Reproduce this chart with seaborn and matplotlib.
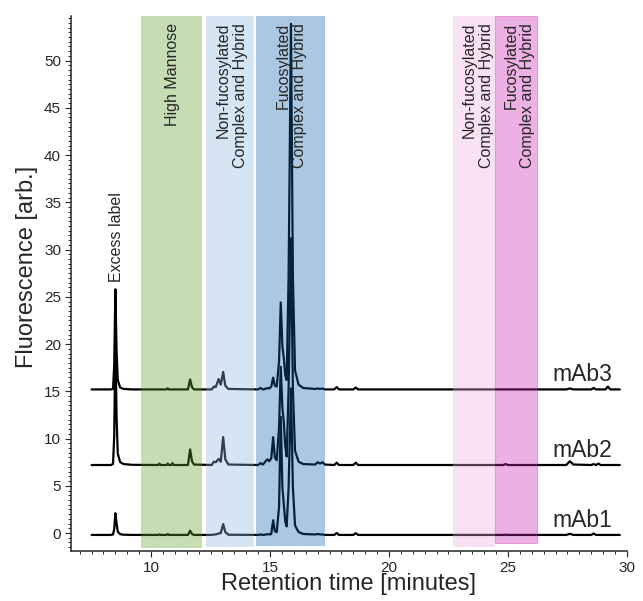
import numpy as np
import pandas as pd
import seaborn as sns
import matplotlib.pyplot as plt
from matplotlib.ticker import MultipleLocator

# retention time grid (minutes)
time = [7.5, 8.3, 8.4, 8.45, 8.5, 8.55, 8.6, 8.7, 8.85, 9.2,
        10.3, 10.35, 10.4, 10.65, 10.7, 10.75, 10.85, 10.9, 10.95,
        11.55, 11.64, 11.72, 11.8,
        12.55, 12.64, 12.72, 12.84, 12.93, 13.03, 13.12, 13.25,
        14.5, 14.6, 14.7, 14.85, 14.9, 14.97, 15.05, 15.13, 15.2, 15.28,
        15.38, 15.45, 15.52, 15.58, 15.64, 15.7, 15.78, 15.88, 15.96,
        16.05, 16.2, 16.4, 16.9, 17.0, 17.1, 17.2, 17.3, 17.7, 17.8, 17.9,
        18.5, 18.6, 18.7, 24.8, 24.9, 25.0, 27.45, 27.6, 27.75,
        28.5, 28.6, 28.7, 28.8, 28.9, 29.1, 29.2, 29.3, 29.7]

mab1 = [0, 0, 0.05, 0.6, 2.3, 1.2, 0.35, 0.08, 0.02, 0,
        0, 0.05, 0, 0, 0.1, 0, 0, 0, 0,
        0, 0.45, 0.1, 0,
        0, 0.05, 0.05, 0.15, 0.2, 1.15, 0.3, 0.02,
        0, 0.05, 0, 0.05, 0.08, 0.05, 0.1, 1.55, 0.4, 0.3,
        3.0, 12.5, 5.0, 3.2, 1.4, 0.9, 5.0, 15.5, 5.0,
        1.0, 0.3, 0.1, 0.05, 0.1, 0.05, 0.05, 0, 0, 0.2, 0,
        0, 0.18, 0, 0, 0.02, 0, 0, 0.12, 0,
        0, 0.15, 0, 0, 0, 0, 0, 0, 0]

mab2 = [0, 0, 0.1, 3.0, 13.5, 5.0, 1.2, 0.3, 0.1, 0.02,
        0, 0.15, 0, 0, 0.15, 0, 0, 0.2, 0,
        0, 1.65, 0.4, 0.05,
        0, 0.35, 0.3, 0.65, 0.35, 2.95, 0.6, 0.05,
        0, 0.2, 0.05, 0.5, 0.6, 0.4, 0.7, 2.95, 0.8, 0.5,
        4.0, 10.4, 6.0, 4.5, 2.0, 0.9, 8.0, 24.0, 8.0,
        1.5, 0.35, 0.1, 0.05, 0.3, 0.15, 0.3, 0.05, 0, 0.25, 0,
        0, 0.25, 0, 0, 0.1, 0, 0, 0.4, 0.05,
        0, 0.1, 0, 0.15, 0, 0, 0, 0, 0]

mab3 = [0, 0, 0.05, 2.5, 10.6, 4.0, 1.0, 0.2, 0.05, 0,
        0, 0, 0, 0, 0.12, 0, 0, 0, 0,
        0, 1.05, 0.25, 0,
        0, 0.3, 0.25, 1.1, 0.5, 1.85, 0.4, 0.05,
        0, 0.15, 0, 0.1, 0.15, 0.1, 0.3, 1.25, 0.4, 0.3,
        3.0, 9.2, 4.5, 3.3, 1.5, 1.0, 12.0, 38.7, 12.0,
        2.0, 0.5, 0.15, 0.05, 0.1, 0.05, 0.1, 0, 0, 0.25, 0,
        0, 0.2, 0, 0, 0, 0, 0, 0.1, 0,
        0, 0.15, 0, 0, 0, 0, 0.3, 0, 0]

samples = ['mAb1', 'mAb2', 'mAb3']
offsets = [-0.2, 7.2, 15.2]

# glycan windows (minutes)
band_labels = ['High Mannose', 'Non-fucosylated\nComplex and Hybrid',
               'Fucosylated\nComplex and Hybrid',
               'Non-fucosylated\nComplex and Hybrid',
               'Fucosylated\nComplex and Hybrid']
band_start = [9.59, 12.31, 14.43, 22.70, 24.47]
band_end = [12.14, 14.33, 17.33, 24.47, 26.21]
band_bottom = [-1.55, -1.45, -1.35, -1.5, -1.1]
band_colors = ['#5c9e29', '#8ab5e0', '#0c62ac', '#eea9e2', '#ce1db2']
label_x = [10.89, 13.39, 15.9, 23.74, 25.48]

df = pd.concat([
    pd.DataFrame({'time': time, 'signal': np.array(vals) + off, 'sample': name})
    for name, vals, off in zip(samples, [mab1, mab2, mab3], offsets)
])

sns.set_style('ticks')
plt.rcParams['font.family'] = ['Liberation Sans', 'DejaVu Sans']

fig = plt.figure(figsize=(6.43, 6.01), dpi=100)
ax = fig.add_axes([0.111, 0.084, 0.864, 0.889])

sns.lineplot(data=df, x='time', y='signal', units='sample', estimator=None,
             sort=False, color='black', lw=1.6, ax=ax, zorder=2)

top = 54.7
for i in range(len(band_start)):
    ec = band_colors[i] if i == 4 else 'none'
    ax.fill_betweenx([band_bottom[i], top], band_start[i], band_end[i],
                     facecolor=band_colors[i], alpha=0.35, edgecolor=ec,
                     lw=0.8, zorder=3)
    ax.text(label_x[i], 54.0, band_labels[i], rotation=90, ha='center',
            va='top', multialignment='right', linespacing=1.15,
            fontsize=11.5, zorder=4)

ax.text(8.56, 26.6, 'Excess label', rotation=90, ha='center', va='bottom',
        fontsize=11.5, zorder=4)

for name, off in zip(samples, offsets):
    ax.text(29.4, off + 0.85, name, ha='right', va='baseline', fontsize=16.5,
            zorder=4)

ax.set_xlim(6.65, 30)
ax.set_ylim(-1.85, top)
ax.xaxis.set_major_locator(MultipleLocator(5))
ax.xaxis.set_minor_locator(MultipleLocator(0.5))
ax.yaxis.set_major_locator(MultipleLocator(5))
ax.yaxis.set_minor_locator(MultipleLocator(0.5))
ax.tick_params(which='major', length=4, width=0.8, labelsize=11, direction='out')
ax.tick_params(which='minor', length=2, width=0.7, direction='out')
for s in ['top', 'right']:
    ax.spines[s].set_visible(False)
for s in ['left', 'bottom']:
    ax.spines[s].set_linewidth(1.1)

ax.set_xlabel('Retention time [minutes]', fontsize=17)
ax.set_ylabel('Fluorescence [arb.]', fontsize=17)
ax.xaxis.set_label_coords(0.498, -0.043)
ax.yaxis.set_label_coords(-0.060, 0.531)

fig.savefig('out.png', dpi=100)
